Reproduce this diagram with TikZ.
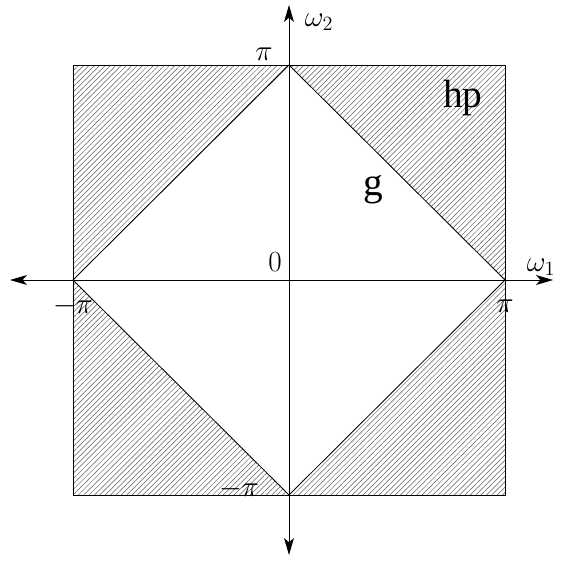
\documentclass[tikz,border=0pt]{standalone}
\usepackage{fontspec}
\newfontfamily\timesf{Liberation Serif}
\usetikzlibrary{patterns.meta,arrows.meta}
\begin{document}
\begin{tikzpicture}[x=0.025cm,y=0.025cm,
  lab/.style={font=\fontsize{21}{24}\selectfont, inner sep=1pt},
  big/.style={font=\timesf\fontsize{28}{32}\selectfont, inner sep=0pt},
  axis/.style={line width=0.6pt, {Stealth[length=12pt,width=7pt,inset=3pt]}-{Stealth[length=12pt,width=7pt,inset=3pt]}}]
\useasboundingbox (-289,-288) rectangle (274,280);
% hatched region
\fill[pattern={Lines[angle=45,distance=2.7pt,line width=0.35pt]}, pattern color=black!65, even odd rule]
  (-216,-215) rectangle (216,215)
  (-216,0) -- (0,215) -- (216,0) -- (0,-215) -- cycle;
\coordinate (L) at (-216,0);
\coordinate (R) at (216,0);
\coordinate (T) at (0,215);
\coordinate (B) at (0,-215);
\draw[line width=0.6pt] (-216,-215) rectangle (216,215);
\draw[line width=0.6pt] (L) -- (T) -- (R) -- (B) -- cycle;
% axes
\coordinate (xa) at (-279,0);
\coordinate (xb) at (264,0);
\coordinate (ya) at (0,-275);
\coordinate (yb) at (0,275);
\draw[axis] (xa) -- (xb);
\draw[axis] (ya) -- (yb);
% labels
\node[lab] (w2) at (30,258) {$\omega_2$};
\node[lab] (w1) at (252,13) {$\omega_1$};
\node[lab] (zero) at (-14,18) {$0$};
\node[lab] (pt) at (-25,226) {$\pi$};
\node[lab] (mpl) at (-216,-26) {$-\pi$};
\node[lab] (pr) at (216,-26) {$\pi$};
\node[lab] (mpb) at (-50,-209) {$-\pi$};
\node[big] (hp) at (174,182) {hp};
\node[big] (g) at (84,90) {g};
\end{tikzpicture}
\end{document}
